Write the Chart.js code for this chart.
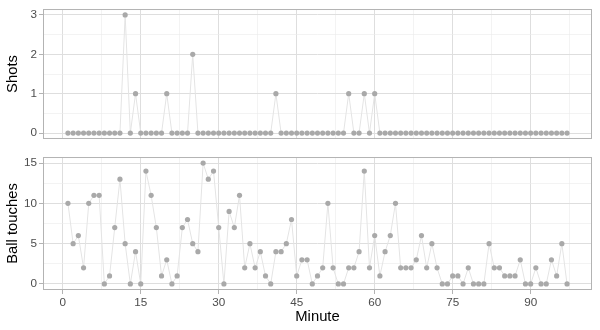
<!DOCTYPE html>
<html>
<head>
<meta charset="utf-8">
<script src="https://cdn.jsdelivr.net/npm/chart.js@4"></script>
<style>
    html, body { margin: 0; padding: 0; background: #fff; }
    #wrap { position: relative; width: 600px; height: 330px; }
    .panel { position: absolute; left: 0; width: 600px; }
</style>
</head>
<body>
<div id="wrap">
    <div class="panel" style="top:0;height:148px"><canvas id="shotsChart"></canvas></div>
    <div class="panel" style="top:148px;height:182px"><canvas id="touchChart"></canvas></div>
</div>
<script>
// Minute of the match for each observation
const minutes = [
    1, 2, 3, 4, 5, 6, 7, 8, 9, 10, 11, 12, 13, 14, 15, 16, 17, 18, 19, 20,
    21, 22, 23, 24, 25, 26, 27, 28, 29, 30, 31, 32, 33, 34, 35, 36, 37, 38, 39, 40,
    41, 42, 43, 44, 45, 46, 47, 48, 49, 50, 51, 52, 53, 54, 55, 56, 57, 58, 59, 60,
    61, 62, 63, 64, 65, 66, 67, 68, 69, 70, 71, 72, 73, 74, 75, 76, 77, 78, 79, 80,
    81, 82, 83, 84, 85, 86, 87, 88, 89, 90, 91, 92, 93, 94, 95, 96, 97
];

const shots = [
    0, 0, 0, 0, 0, 0, 0, 0, 0, 0, 0, 3, 0, 1, 0, 0, 0, 0, 0, 1,
    0, 0, 0, 0, 2, 0, 0, 0, 0, 0, 0, 0, 0, 0, 0, 0, 0, 0, 0, 0,
    1, 0, 0, 0, 0, 0, 0, 0, 0, 0, 0, 0, 0, 0, 1, 0, 0, 1, 0, 1,
    0, 0, 0, 0, 0, 0, 0, 0, 0, 0, 0, 0, 0, 0, 0, 0, 0, 0, 0, 0,
    0, 0, 0, 0, 0, 0, 0, 0, 0, 0, 0, 0, 0, 0, 0, 0, 0
];

const ballTouches = [
    10, 5, 6, 2, 10, 11, 11, 0, 1, 7, 13, 5, 0, 4, 0, 14, 11, 7, 1, 3,
    0, 1, 7, 8, 5, 4, 15, 13, 14, 7, 0, 9, 7, 11, 2, 5, 2, 4, 1, 0,
    4, 4, 5, 8, 1, 3, 3, 0, 1, 2, 10, 2, 0, 0, 2, 2, 4, 14, 2, 6,
    1, 4, 6, 10, 2, 2, 2, 3, 6, 2, 5, 2, 0, 0, 1, 1, 0, 2, 0, 0,
    0, 5, 2, 2, 1, 1, 1, 3, 0, 0, 2, 0, 0, 3, 1, 5, 0
];

// Axis ticks (major ones get labels, minor ones only a faint grid line)
const xMajorTicks = [0, 15, 30, 45, 60, 75, 90];
const xMinorTicks = [7.5, 22.5, 37.5, 52.5, 67.5, 82.5, 97.5];
const shotsMajorTicks = [0, 1, 2, 3];
const shotsMinorTicks = [0.5, 1.5, 2.5];
const touchMajorTicks = [0, 5, 10, 15];
const touchMinorTicks = [2.5, 7.5, 12.5];

const FONT = "'Liberation Sans', Arial, Helvetica, sans-serif";
const POINT_COLOR = '#a9a9a9';
const LINE_COLOR = '#e4e4e4';
const GRID_MAJOR = '#dedede';
const GRID_MINOR = '#ebebeb';
const BORDER_COLOR = '#b3b3b3';
const TICK_TEXT = '#4d4d4d';

// Full box round the panel, like the ggplot panel border
const panelBorder = {
    id: 'panelBorder',
    afterDraw(chart) {
        const a = chart.chartArea;
        const ctx = chart.ctx;
        ctx.save();
        ctx.strokeStyle = BORDER_COLOR;
        ctx.lineWidth = 1;
        ctx.strokeRect(a.left + 0.5, a.top + 0.5, a.right - a.left - 1, a.bottom - a.top - 1);
        ctx.restore();
    }
};

function tickList(major, minor) {
    return major.concat(minor).sort((a, b) => a - b).map(v => ({ value: v }));
}

function gridFor(major, showTicks) {
    return {
        drawTicks: showTicks,
        tickLength: 4,
        color: c => major.includes(c.tick.value) ? GRID_MAJOR : GRID_MINOR,
        lineWidth: c => major.includes(c.tick.value) ? 1 : 0.6,
        tickColor: c => major.includes(c.tick.value) ? BORDER_COLOR : 'rgba(0,0,0,0)',
        tickWidth: 1
    };
}

function makePanel(canvasId, values, yTitle, yMin, yMax, yMajor, yMinor, showX, padTop, padBottom) {
    const ctx = document.getElementById(canvasId).getContext('2d');
    return new Chart(ctx, {
        type: 'line',
        data: {
            datasets: [{
                data: minutes.map((m, i) => ({ x: m, y: values[i] })),
                borderColor: LINE_COLOR,
                borderWidth: 1,
                pointBackgroundColor: POINT_COLOR,
                pointBorderWidth: 0,
                pointRadius: 2.6,
                tension: 0
            }]
        },
        plugins: [panelBorder],
        options: {
            responsive: true,
            maintainAspectRatio: false,
            animation: false,
            layout: { padding: { top: padTop, bottom: padBottom, left: 0, right: 8 } },
            plugins: { legend: { display: false }, tooltip: { enabled: false } },
            scales: {
                x: {
                    type: 'linear',
                    min: -3.8,
                    max: 101.8,
                    afterBuildTicks: s => { s.ticks = tickList(xMajorTicks, xMinorTicks); },
                    afterFit: s => { s.height = showX ? 36 : 0; },
                    border: { display: false },
                    grid: gridFor(xMajorTicks, showX),
                    ticks: {
                        display: showX,
                        autoSkip: false,
                        maxRotation: 0,
                        padding: 2,
                        color: TICK_TEXT,
                        font: { family: FONT, size: 11.7 },
                        callback: v => xMajorTicks.includes(v) ? String(v) : ''
                    },
                    title: {
                        display: showX,
                        text: 'Minute',
                        color: '#000',
                        padding: { top: 0, bottom: 0 },
                        font: { family: FONT, size: 14.8 }
                    }
                },
                y: {
                    min: yMin,
                    max: yMax,
                    afterBuildTicks: s => { s.ticks = tickList(yMajor, yMinor); },
                    afterFit: s => { s.width = 43; },
                    border: { display: false },
                    grid: gridFor(yMajor, true),
                    ticks: {
                        autoSkip: false,
                        padding: 2,
                        color: TICK_TEXT,
                        font: { family: FONT, size: 11.7 },
                        callback: v => yMajor.includes(v) ? String(v) : ''
                    },
                    title: {
                        display: true,
                        text: yTitle,
                        color: '#000',
                        padding: { top: 4, bottom: 0 },
                        font: { family: FONT, size: 14.8 }
                    }
                }
            }
        }
    });
}

makePanel('shotsChart', shots, 'Shots', -0.15, 3.15, shotsMajorTicks, shotsMinorTicks, false, 7, 9);
makePanel('touchChart', ballTouches, 'Ball touches', -0.75, 15.75, touchMajorTicks, touchMinorTicks, true, 9, 4);
</script>
</body>
</html>
